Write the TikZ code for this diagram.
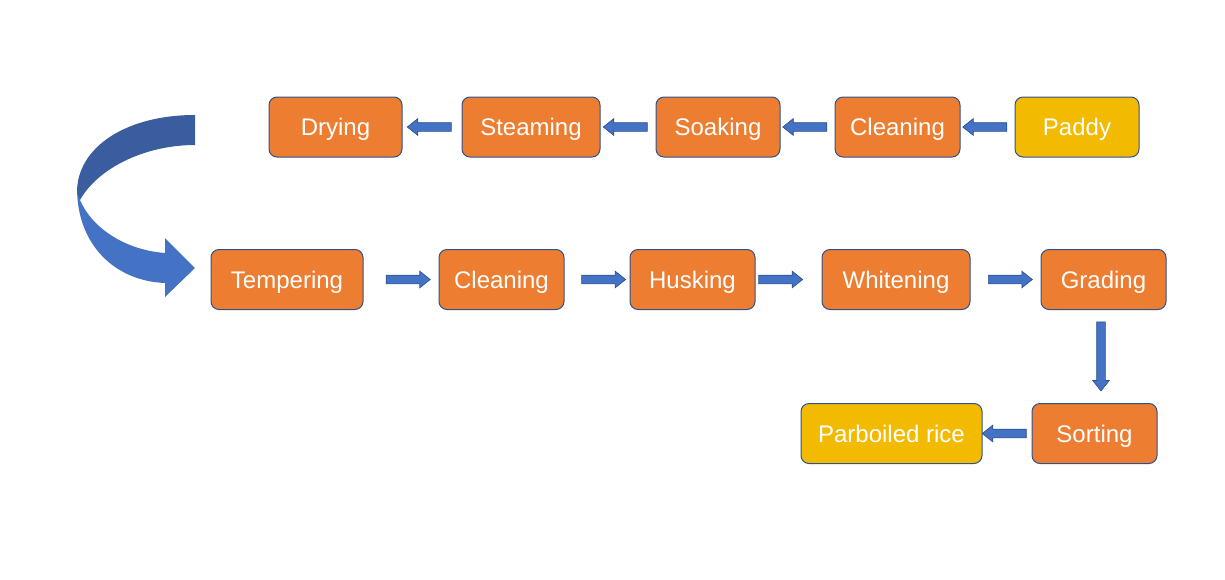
\documentclass[tikz,border=0pt]{standalone}
\usepackage{fontspec}
\setmainfont{Liberation Sans}
\usetikzlibrary{shapes.arrows,calc}
\definecolor{boxorange}{HTML}{ED7D31}
\definecolor{boxgold}{HTML}{F2BA00}
\definecolor{edgeblue}{HTML}{2F528F}
\definecolor{arrowblue}{HTML}{4472C4}
\definecolor{darkband}{HTML}{3A5DA0}
\tikzset{
  stepbox/.style={draw=edgeblue, line width=0.75pt, rounded corners=6pt, fill=boxorange,
    text=white, font=\fontsize{18}{21.6}\selectfont, minimum height=60*0.75pt, inner sep=0pt,
    text height=12.9pt, text depth=0pt},
  endbox/.style={stepbox, fill=boxgold},
  barrow/.style={single arrow, draw=edgeblue, fill=arrowblue, line width=0.5pt,
    sloped, allow upside down, inner xsep=0pt, inner ysep=3pt,
    single arrow head extend=3pt, single arrow tip angle=77,
    minimum height=44*0.75pt, anchor=center},
}
\begin{document}
\begin{tikzpicture}[x=0.75pt,y=-0.75pt]
\useasboundingbox (0,0) rectangle (1225,579);
% row 1
\node[stepbox, minimum width=133*0.75pt] (dry) at (335.5,127) {Drying};
\node[stepbox, minimum width=138*0.75pt] (steam) at (531,127) {Steaming};
\node[stepbox, minimum width=124*0.75pt] (soak) at (718,127) {Soaking};
\node[stepbox, minimum width=125*0.75pt] (clean1) at (897.5,127) {Cleaning};
\node[endbox, minimum width=124*0.75pt] (paddy) at (1077,127) {Paddy};
% row 2
\node[stepbox, minimum width=152*0.75pt] (temp) at (287,279.5) {Tempering};
\node[stepbox, minimum width=125*0.75pt] (clean2) at (501.5,279.5) {Cleaning};
\node[stepbox, minimum width=125*0.75pt] (husk) at (692.5,279.5) {Husking};
\node[stepbox, minimum width=148*0.75pt] (white) at (896,279.5) {Whitening};
\node[stepbox, minimum width=125*0.75pt] (grade) at (1103.5,279.5) {Grading};
% row 3
\node[endbox, minimum width=181*0.75pt] (rice) at (891.5,433.5) {Parboiled rice};
\node[stepbox, minimum width=125*0.75pt] (sort) at (1094.5,433.5) {Sorting};
% block arrows
\path (paddy.west) -- (clean1.east) node[barrow, pos=0.5] {};
\path (clean1.west) -- (soak.east) node[barrow, pos=0.5] {};
\path (soak.west) -- (steam.east) node[barrow, pos=0.5] {};
\path (steam.west) -- (dry.east) node[barrow, pos=0.5] {};
\path (temp.east) -- (clean2.west) node[barrow, pos=0.56] {};
\path (clean2.east) -- (husk.west) node[barrow, pos=0.56] {};
\path (husk.east) -- (white.west) node[barrow, pos=0.34] {};
\path (white.east) -- (grade.west) node[barrow, pos=0.53] {};
\path (grade.south -| 1101,0) -- (sort.north -| 1101,0) node[barrow, pos=0.47, minimum height=69*0.75pt] {};
\path (sort.west) -- (rice.east) node[barrow, pos=0.5] {};
% curved arrow
\fill[arrowblue] (77,188) .. controls (77,245) and (115,281) .. (165,283)
  -- (165,297) -- (195,268) -- (165,238) -- (165,253)
  .. controls (125,250) and (92,228) .. (80,200) -- cycle;
\fill[darkband] (195,115) .. controls (125,115) and (77,148) .. (77,192)
  -- (80,200) .. controls (98,168) and (145,145) .. (195,145) -- cycle;
\end{tikzpicture}
\end{document}
